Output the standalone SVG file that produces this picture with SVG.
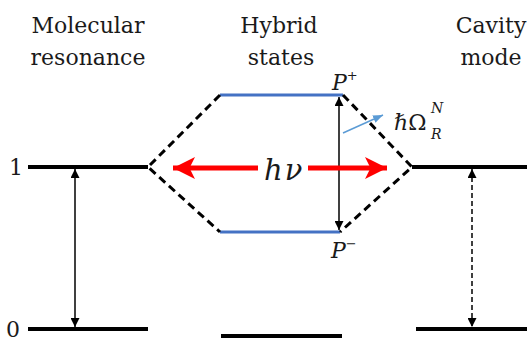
<svg xmlns="http://www.w3.org/2000/svg" width="527" height="338" viewBox="0 0 527 338">
<style>
text{font-family:'DejaVu Serif',serif;font-size:22px;fill:#1a1a1a}
.i{font-style:italic}
.lvl{stroke:#000;stroke-width:4;fill:none}
.pol{stroke:#4472c4;stroke-width:3;fill:none}
.dash{stroke:#000;stroke-width:3;fill:none;stroke-dasharray:8,5}
.arr{stroke:#000;stroke-width:1.5;fill:none}
.red{stroke:#f00;stroke-width:5;fill:none}
</style>
<defs>
<marker id="ah" viewBox="0 0 10 10" refX="10" refY="5" markerWidth="9" markerHeight="9" markerUnits="userSpaceOnUse" orient="auto-start-reverse"><path d="M0,0 L10,5 L0,10 z" fill="#000"/></marker>
<marker id="ahr" viewBox="0 0 10 10" refX="10" refY="5" markerWidth="22" markerHeight="22" markerUnits="userSpaceOnUse" orient="auto"><path d="M0,0 L10,5 L0,10 L2.5,5 z" fill="#f00"/></marker>
<marker id="ahb" viewBox="0 0 10 10" refX="10" refY="5" markerWidth="10" markerHeight="10" markerUnits="userSpaceOnUse" orient="auto"><path d="M0,1 L10,5 L0,9 z" fill="#5b9bd5"/></marker>
</defs>
<g id="molecular">
<text x="88" y="33" text-anchor="middle">Molecular</text>
<text x="88" y="65" text-anchor="middle">resonance</text>
<line class="lvl" x1="28" y1="167" x2="148" y2="167"/>
<line class="lvl" x1="28" y1="329" x2="148" y2="329"/>
<text x="9" y="175">1</text>
<text x="6" y="337">0</text>
</g>
<g id="hybrid">
<text x="279" y="33" text-anchor="middle">Hybrid</text>
<text x="281" y="65" text-anchor="middle">states</text>
<line class="pol" x1="220" y1="95" x2="343" y2="95"/>
<line class="pol" x1="220" y1="232" x2="340" y2="232"/>
<line class="lvl" x1="221" y1="336" x2="342" y2="336"/>
<text class="i" x="332" y="90">P<tspan font-size="13" dy="-10">+</tspan></text>
<text class="i" x="331" y="258">P<tspan font-size="13" dy="-10">−</tspan></text>
<text class="i" x="264" y="180" style="font-size:29px" letter-spacing="2">hν</text>
</g>
<g id="cavity">
<text x="491" y="33" text-anchor="middle">Cavity</text>
<text x="491" y="65" text-anchor="middle">mode</text>
<line class="lvl" x1="412" y1="167" x2="527" y2="167"/>
<line class="lvl" x1="416" y1="329" x2="527" y2="329"/>
</g>
<g id="rabi">
<text x="394" y="130">ℏΩ<tspan class="i" font-size="14" x="431" y="113">N</tspan><tspan class="i" font-size="14" x="431" y="139">R</tspan></text>
</g>
<g id="connectors">
<path class="dash" d="M220,95 L148,167 L220,232"/>
<path class="dash" d="M343,95 L412,167 L340,232"/>
<line class="arr" x1="75" y1="169" x2="75" y2="327" marker-start="url(#ah)" marker-end="url(#ah)"/>
<line class="arr" x1="339" y1="97" x2="339" y2="230" marker-start="url(#ah)" marker-end="url(#ah)"/>
<line class="arr" x1="472" y1="169" x2="472" y2="327" stroke-dasharray="5,3" marker-start="url(#ah)" marker-end="url(#ah)"/>
<line class="red" x1="258" y1="168" x2="173" y2="168" marker-end="url(#ahr)"/>
<line class="red" x1="308" y1="168" x2="387" y2="168" marker-end="url(#ahr)"/>
<line x1="343" y1="133" x2="383" y2="115" stroke="#5b9bd5" stroke-width="1.5" marker-end="url(#ahb)"/>
</g>
</svg>
